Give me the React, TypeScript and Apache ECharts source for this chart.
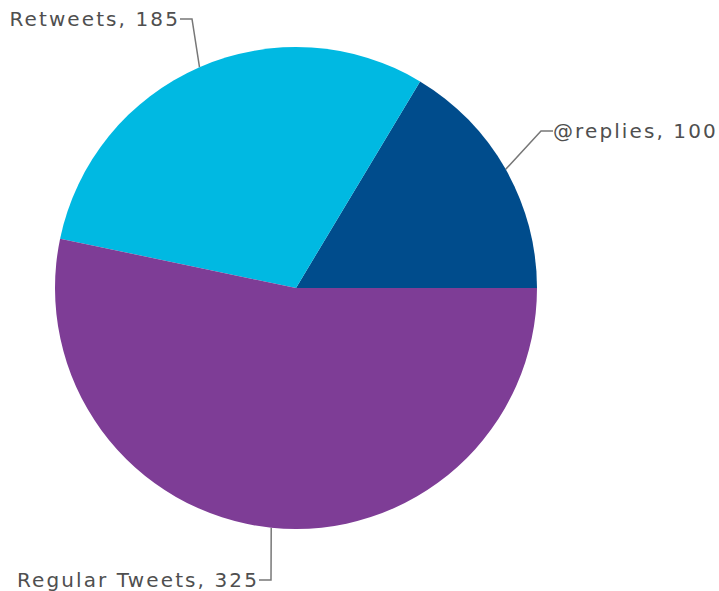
import React, { useEffect, useRef } from "react";
import * as echarts from "echarts";

const categories = ["@replies", "Retweets", "Regular Tweets"];
const values = [100, 185, 325];
const colors = ["#004C8C", "#00B9E2", "#7E3D96"];

// label anchor placements (pixels) for each category
const labelPlacements = [
  { x: 553, y: 131, align: "left" },
  { x: 180, y: 19, align: "right" },
  { x: 259, y: 580, align: "right" },
];

export default function App() {
  const ref = useRef<HTMLDivElement>(null);
  useEffect(() => {
    document.body.style.margin = "0";
    const chart = echarts.init(ref.current!, null, { renderer: "svg" });
    chart.setOption({
      animation: false,
      backgroundColor: "#ffffff",
      series: [
        {
          type: "pie",
          center: [296, 288],
          radius: 241,
          startAngle: 0,
          clockwise: false,
          avoidLabelOverlap: false,
          data: categories.map((c, i) => ({
            name: c,
            value: values[i],
            itemStyle: { color: colors[i] },
          })),
          label: {
            show: true,
            position: "outside",
            formatter: "{b}, {c}",
            fontFamily: "DejaVu Sans",
            fontSize: 20,
            color: "#4f4f4f",
          },
          labelLine: {
            show: true,
            length: 30,
            length2: 12,
            lineStyle: { color: "#777777", width: 1.5 },
          },
          labelLayout: (params: any) => {
            const p = labelPlacements[params.dataIndex];
            return { x: p.x, y: p.y, align: p.align, verticalAlign: "middle" };
          },
          emphasis: { disabled: true },
        },
      ],
    });
    return () => chart.dispose();
  }, []);
  return (
    <>
      <style>{`#pie-chart text { letter-spacing: 2.1px; }`}</style>
      <div
        id="pie-chart"
        ref={ref}
        style={{ position: "absolute", left: 0, top: 0, width: 719, height: 591 }}
      />
    </>
  );
}
